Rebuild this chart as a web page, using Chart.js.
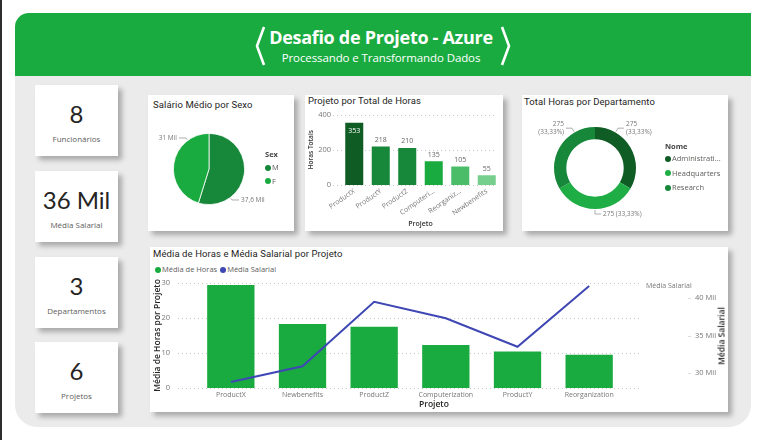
<!DOCTYPE html>
<html>
<head>
<meta charset="utf-8">
<script src="https://cdn.jsdelivr.net/npm/chart.js@4.4.1/dist/chart.umd.min.js"></script>
<style>
html,body{margin:0;padding:0;width:762px;height:440px;overflow:hidden;background:#fff;font-family:"Roboto","Open Sans",sans-serif;}
#edge{position:absolute;left:0;top:0;width:2px;height:440px;background:#2e2e2e;}
#header{position:absolute;left:15px;top:13px;width:736px;height:63px;background:#1aab40;border-top-left-radius:14px;}
#bg{position:absolute;left:15px;top:76px;width:736px;height:351px;background:#ebebeb;border-bottom-left-radius:22px;border-bottom-right-radius:22px;}
#htitle{position:absolute;left:0;width:762px;top:25px;text-align:center;color:#fff;font-family:"Open Sans",sans-serif;font-weight:700;font-size:18px;letter-spacing:-0.3px;}
#hsub{position:absolute;left:0;width:762px;top:50px;text-align:center;color:#fff;font-family:"Open Sans",sans-serif;font-size:11.5px;letter-spacing:-0.1px;}
#brackets{position:absolute;left:0;top:0;}
.card{position:absolute;background:#fff;box-shadow:4px 4px 5px rgba(0,0,0,0.28);}
.kpi .v{position:absolute;left:0;right:0;text-align:center;font-family:"Lato",sans-serif;font-size:24px;color:#252423;}
.kpi .l{position:absolute;left:0;right:0;text-align:center;font-family:"Open Sans",sans-serif;font-size:8px;color:#605e5c;}
.ctitle{position:absolute;font-family:"Roboto",sans-serif;font-size:9.5px;color:#252423;white-space:nowrap;letter-spacing:0.1px;}
canvas{position:absolute;}
.legend{position:absolute;font-family:"Open Sans",sans-serif;font-size:7.5px;color:#605e5c;white-space:nowrap;}
.legend .t{font-weight:700;color:#444;}
.legend .it{position:absolute;left:0;}
.legend .dot{display:inline-block;width:6px;height:6px;border-radius:50%;margin-right:1px;vertical-align:-0.5px;}
.axt{position:absolute;font-family:"Open Sans",sans-serif;font-size:8.5px;color:#252423;white-space:nowrap;}
</style>
</head>
<body>
<div id="edge"></div>
<div id="header"></div>
<div id="bg"></div>
<svg id="brackets" width="762" height="80">
  <polyline points="264,27 257,46 264,65" fill="none" stroke="#fff" stroke-width="2.6"/>
  <polyline points="502,27 509,46 502,65" fill="none" stroke="#fff" stroke-width="2.6"/>
</svg>
<div id="htitle">Desafio de Projeto - Azure</div>
<div id="hsub">Processando e Transformando Dados</div>

<div id="kpis"></div>

<div class="card" style="left:148px;top:95px;width:146px;height:136px;"></div>
<div class="card" style="left:305px;top:95px;width:198px;height:136px;"></div>
<div class="card" style="left:522px;top:95px;width:206px;height:136px;"></div>
<div class="card" style="left:150px;top:247px;width:578px;height:165px;"></div>

<div class="ctitle" style="left:153px;top:99px;">Salário Médio por Sexo</div>
<div class="ctitle" style="left:308px;top:95px;">Projeto por Total de Horas</div>
<div class="ctitle" style="left:524px;top:96px;">Total Horas por Departamento</div>
<div class="ctitle" style="left:153px;top:248px;">Média de Horas e Média Salarial por Projeto</div>

<canvas id="cPie" width="146" height="116" style="left:148px;top:112px;"></canvas>
<canvas id="cBar" width="198" height="123" style="left:305px;top:108px;"></canvas>
<canvas id="cDonut" width="206" height="121" style="left:522px;top:110px;"></canvas>
<canvas id="cCombo" width="578" height="136" style="left:150px;top:276px;"></canvas>

<div class="legend" id="legPie" style="left:265px;top:149px;"></div>
<div class="legend" id="legDonut" style="left:665px;top:141px;"></div>
<div class="legend" id="legCombo" style="left:155px;top:264px;"></div>
<div class="axt" style="left:419px;top:398px;font-weight:600;">Projeto</div>
<div class="axt" style="left:721px;top:336px;transform:translate(-50%,-50%) rotate(-90deg);font-weight:600;">Média Salarial</div>

<script>
// ---------- DATA ----------
const kpiValues = ['8', '36 Mil', '3', '6'];
const kpiLabels = ['Funcionários', 'Média Salarial', 'Departamentos', 'Projetos'];

const sexLabels = ['M', 'F'];
const sexSalary = [37600, 31000];

const projects = ['ProductX', 'ProductY', 'ProductZ', 'Computerization', 'Reorganization', 'Newbenefits'];
const projectHours = [353, 218, 210, 135, 105, 55];
const hoursTicks = [0, 200, 400];

const departments = ['Administration', 'Headquarters', 'Research'];
const deptHours = [275, 275, 275];

const comboProjects = ['ProductX', 'Newbenefits', 'ProductZ', 'Computerization', 'ProductY', 'Reorganization'];
const avgHours = [29.4, 18.3, 17.5, 12.3, 10.4, 9.5];
const avgSalary = [28800, 30900, 39500, 37300, 33500, 41600];
const avgHoursTicks = [0, 10, 20, 30];
const salaryTicks = [30000, 35000, 40000];

// ---------- STYLES ----------
const G_DARK = '#0f5c25', G_MID = '#17873a', G_MAIN = '#1aab40', G_LIGHT = '#4bbd68', G_LIGHTER = '#77cf8e';
const sexColors = [G_MID, G_MAIN];
const barColors = [G_DARK, G_MID, G_MID, G_MAIN, G_LIGHT, G_LIGHTER];
const deptColors = [G_DARK, '#1fae45', G_MID];
const LINE_BLUE = '#3e47b3';
const FONT = '"Open Sans", sans-serif';

function fmtMil(v) {
  const k = v / 1000;
  const s = Number.isInteger(k) ? String(k) : k.toFixed(1).replace('.', ',');
  return s + ' Mil';
}
function trunc(s, max, keep) { return s.length > max ? s.slice(0, keep) + '...' : s; }
function noPad(s) { s.paddingTop = 0; s.paddingBottom = 0; s.paddingLeft = 0; s.paddingRight = 0; }

// ---------- KPI CARDS ----------
const kpiTops = [85, 171, 257, 342];
const kpiWrap = document.getElementById('kpis');
kpiValues.forEach((v, i) => {
  const d = document.createElement('div');
  d.className = 'card kpi';
  d.style.cssText = `left:35px;top:${kpiTops[i]}px;width:83px;height:71px;`;
  d.innerHTML = `<div class="v" style="top:14px;">${v}</div><div class="l" style="top:48px;">${kpiLabels[i]}</div>`;
  kpiWrap.appendChild(d);
});

// ---------- LEGENDS ----------
function legend(id, title, labels, colors, gap, firstTop, inline) {
  const el = document.getElementById(id);
  let html = '';
  if (inline) {
    html = labels.map((l, i) => `<span style="margin-right:3px;"><span class="dot" style="background:${colors[i]}"></span>${l}</span>`).join('');
  } else {
    if (title) html += `<div class="it t" style="top:0px;">${title}</div>`;
    labels.forEach((l, i) => {
      html += `<div class="it" style="top:${firstTop + i * gap}px;"><span class="dot" style="background:${colors[i]}"></span>${l}</div>`;
    });
  }
  el.innerHTML = html;
}
legend('legPie', 'Sex', sexLabels, sexColors, 13.5, 13);
legend('legDonut', 'Nome', departments.map(d => trunc(d, 13, 12)), deptColors, 14.5, 12);
legend('legCombo', null, ['Média de Horas', 'Média Salarial'], [G_MAIN, LINE_BLUE], 0, 0, true);

// ---------- PLUGINS ----------
const outLabels = {
  id: 'outLabels',
  afterDatasetsDraw(chart, args, o) {
    const ctx = chart.ctx;
    const meta = chart.getDatasetMeta(0);
    const data = chart.data.datasets[0].data;
    const total = data.reduce((a, b) => a + b, 0);
    ctx.save();
    ctx.font = o.font;
    ctx.fillStyle = o.color;
    ctx.strokeStyle = o.lineColor;
    ctx.lineWidth = 0.8;
    meta.data.forEach((arc, i) => {
      const p = arc.getProps(['x', 'y', 'startAngle', 'endAngle', 'outerRadius'], true);
      let clock = (p.startAngle + p.endAngle) / 2 + Math.PI / 2;
      clock = ((clock % (2 * Math.PI)) + 2 * Math.PI) % (2 * Math.PI);
      const nearest = clock < Math.PI / 2 ? 0 : (clock < 1.5 * Math.PI ? Math.PI : 2 * Math.PI);
      clock = clock + (nearest - clock) * o.pull;
      const sx = Math.sin(clock), sy = -Math.cos(clock);
      const ax = p.x + sx * (p.outerRadius + 1), ay = p.y + sy * (p.outerRadius + 1);
      const bx = p.x + sx * (p.outerRadius + o.radial), by = p.y + sy * (p.outerRadius + o.radial);
      const right = sx > -0.05;
      const ex = bx + (right ? 1 : -1) * o.hor;
      ctx.beginPath(); ctx.moveTo(ax, ay); ctx.lineTo(bx, by); ctx.lineTo(ex, by); ctx.stroke();
      const v = data[i];
      let lines;
      if (o.percent) {
        const pct = '(' + (v / total * 100).toFixed(2).replace('.', ',') + '%)';
        lines = Math.abs(sx) > 0.3 ? [String(v), pct] : [v + ' ' + pct];
      } else {
        lines = [fmtMil(v)];
      }
      ctx.textAlign = right ? 'left' : 'right';
      ctx.textBaseline = 'middle';
      const tx = ex + (right ? 2 : -2);
      const lh = o.lineHeight;
      lines.forEach((t, k) => {
        ctx.fillText(t, tx, by + (k - (lines.length - 1) / 2) * lh);
      });
    });
    ctx.restore();
  }
};

const extGrid = {
  id: 'extGrid',
  beforeDatasetsDraw(chart, args, o) {
    const s = chart.scales[o.axis];
    const { left, right } = chart.chartArea;
    const ctx = chart.ctx;
    ctx.save();
    ctx.strokeStyle = o.color;
    ctx.lineWidth = 1;
    ctx.setLineDash([1, 3]);
    s.ticks.forEach(t => {
      const y = Math.round(s.getPixelForValue(t.value)) + 0.5;
      ctx.beginPath(); ctx.moveTo(left - o.extLeft, y); ctx.lineTo(right + o.extRight, y); ctx.stroke();
    });
    if (o.sideAxis) {
      const s2 = chart.scales[o.sideAxis];
      ctx.setLineDash([]);
      ctx.strokeStyle = '#dddddd';
      s2.ticks.forEach(t => {
        const y = Math.round(s2.getPixelForValue(t.value)) + 0.5;
        ctx.beginPath(); ctx.moveTo(s2.left + o.sideTick, y); ctx.lineTo(s2.left + o.sideTick + 3, y); ctx.stroke();
      });
    }
    ctx.restore();
  }
};

const barLabels = {
  id: 'barLabels',
  afterDatasetsDraw(chart, args, o) {
    const ctx = chart.ctx;
    const meta = chart.getDatasetMeta(0);
    const data = chart.data.datasets[0].data;
    ctx.save();
    ctx.font = o.font;
    ctx.textAlign = 'center';
    meta.data.forEach((bar, i) => {
      if (bar.y - 13 < chart.chartArea.top) {
        ctx.fillStyle = '#ffffff'; ctx.textBaseline = 'top';
        ctx.fillText(String(data[i]), bar.x, bar.y + 5);
      } else {
        ctx.fillStyle = o.color; ctx.textBaseline = 'bottom';
        ctx.fillText(String(data[i]), bar.x, bar.y - 3);
      }
    });
    ctx.restore();
  }
};

const seriesLabel = {
  id: 'seriesLabel',
  afterDatasetsDraw(chart, args, o) {
    const meta = chart.getDatasetMeta(o.dataset);
    const last = meta.data[meta.data.length - 1];
    const ctx = chart.ctx;
    ctx.save();
    ctx.font = o.font; ctx.fillStyle = o.color; ctx.textAlign = 'left'; ctx.textBaseline = 'middle';
    ctx.fillText(chart.data.datasets[o.dataset].label, chart.chartArea.right + o.dx, last.y);
    ctx.restore();
  }
};

Chart.defaults.font.family = FONT;
Chart.defaults.animation = false;
Chart.defaults.responsive = false;
Chart.defaults.plugins.legend.display = false;
Chart.defaults.plugins.tooltip.enabled = false;

// ---------- PIE ----------
new Chart(document.getElementById('cPie'), {
  type: 'pie',
  data: { labels: sexLabels, datasets: [{ data: sexSalary, backgroundColor: sexColors, borderColor: '#ffffff', borderWidth: 0.8 }] },
  options: {
    layout: { padding: { left: 25, top: 21, right: 49, bottom: 23 } },
    plugins: { outLabels: { font: '6.5px ' + FONT, color: '#777', lineColor: '#999', pull: 0.55, radial: 3, hor: 7, lineHeight: 8 } }
  },
  plugins: [outLabels]
});

// ---------- BAR ----------
new Chart(document.getElementById('cBar'), {
  type: 'bar',
  data: { labels: projects, datasets: [{ data: projectHours, backgroundColor: barColors, barPercentage: 0.68, categoryPercentage: 1 }] },
  options: {
    layout: { padding: { top: 6.5, right: 3, left: 0, bottom: 0 } },
    plugins: {
      extGrid: { axis: 'y', color: '#c8c8c8', extLeft: 8, extRight: -3 },
      barLabels: { font: '7px ' + FONT, color: '#666' }
    },
    scales: {
      x: {
        grid: { display: false, drawTicks: false }, border: { display: false },
        ticks: { minRotation: 35, maxRotation: 35, autoSkip: false, font: { size: 7 }, color: '#777', padding: 2,
          callback: (v, i) => trunc(projects[i], 11, 9) },
        title: { display: true, text: 'Projeto', font: { size: 7, weight: '600' }, color: '#333', padding: { top: 0, bottom: 3 } },
        afterFit(s) { s.height = 46; noPad(s); }
      },
      y: {
        min: 0, max: 400,
        afterBuildTicks(s) { s.ticks = hoursTicks.map(v => ({ value: v })); },
        grid: { display: false, drawTicks: false }, border: { display: false },
        ticks: { font: { size: 7.5 }, color: '#777', padding: 10 },
        title: { display: true, text: 'Horas Totais', font: { size: 6.5, weight: '600' }, color: '#333', padding: { top: 2, bottom: 0 } },
        afterFit(s) { s.width = 36; noPad(s); }
      }
    }
  },
  plugins: [extGrid, barLabels]
});

// ---------- DONUT ----------
new Chart(document.getElementById('cDonut'), {
  type: 'doughnut',
  data: { labels: departments, datasets: [{ data: deptHours, backgroundColor: deptColors, borderWidth: 0, cutout: '70%' }] },
  options: {
    layout: { padding: { left: 32, top: 17, right: 92, bottom: 22 } },
    plugins: { outLabels: { font: '6.5px ' + FONT, color: '#777', lineColor: '#999', pull: 0.5, radial: 5, hor: 6, lineHeight: 8.5, percent: true } }
  },
  plugins: [outLabels]
});

// ---------- COMBO ----------
new Chart(document.getElementById('cCombo'), {
  data: {
    labels: comboProjects,
    datasets: [
      { type: 'line', label: 'Média Salarial', data: avgSalary, yAxisID: 'y1', borderColor: LINE_BLUE, borderWidth: 2, pointRadius: 0, tension: 0, order: 0 },
      { type: 'bar', label: 'Média de Horas', data: avgHours, yAxisID: 'y', backgroundColor: G_MAIN, barPercentage: 0.66, categoryPercentage: 1, order: 1 }
    ]
  },
  options: {
    layout: { padding: { top: 7, left: 0, right: 0, bottom: 0 } },
    plugins: {
      extGrid: { axis: 'y', color: '#c8c8c8', extLeft: 17, extRight: 17, sideAxis: 'y1', sideTick: 63 },
      seriesLabel: { dataset: 0, dx: 21, font: '7px ' + FONT, color: '#777' }
    },
    scales: {
      x: {
        grid: { display: false, drawTicks: false }, border: { display: false },
        ticks: { maxRotation: 0, autoSkip: false, font: { size: 7 }, color: '#777', padding: 3 },
        afterFit(s) { s.height = 24; noPad(s); }
      },
      y: {
        position: 'left', min: 0, max: 30,
        afterBuildTicks(s) { s.ticks = avgHoursTicks.map(v => ({ value: v })); },
        grid: { display: false, drawTicks: false }, border: { display: false },
        ticks: { font: { size: 7.5 }, color: '#777', padding: 25 },
        title: { display: true, text: 'Média de Horas por Projeto', font: { size: 8.5, weight: '600' }, color: '#252423', padding: { top: 2, bottom: 0 } },
        afterFit(s) { s.width = 45; noPad(s); }
      },
      y1: {
        position: 'right', min: 28000, max: 42000,
        afterBuildTicks(s) { s.ticks = salaryTicks.map(v => ({ value: v })); },
        grid: { display: false, drawTicks: false }, border: { display: false },
        ticks: { font: { size: 7.5 }, color: '#777', padding: 70, callback: v => fmtMil(v) },
        afterFit(s) { s.width = 103; noPad(s); }
      }
    }
  },
  plugins: [extGrid, seriesLabel]
});
</script>
</body>
</html>
